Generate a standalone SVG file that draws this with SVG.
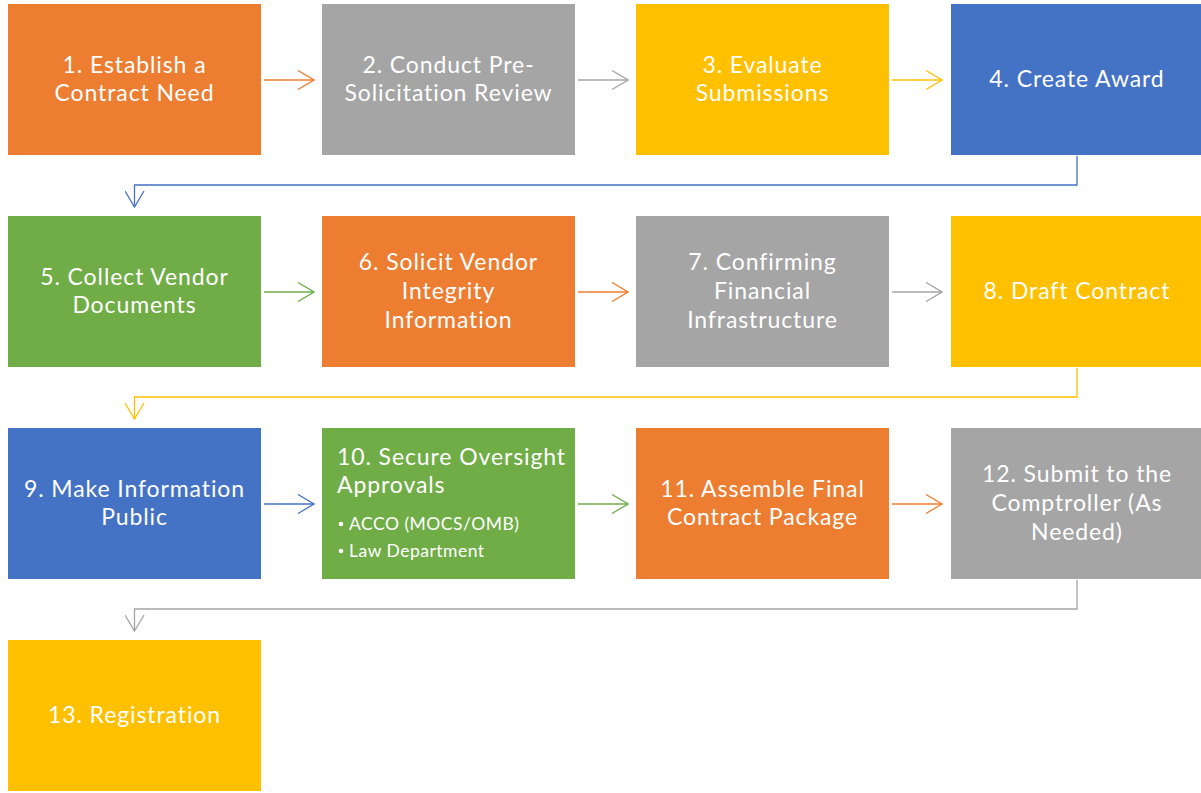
<svg xmlns="http://www.w3.org/2000/svg" width="1201" height="793" viewBox="0 0 1201 793">
  <style>
    .box { stroke: none; }
    .orange { fill: #ED7D31; }
    .gray { fill: #A5A5A5; }
    .yellow { fill: #FFC000; }
    .blue { fill: #4472C4; }
    .green { fill: #70AD47; }
    .lbl { font-family: Lato, "Open Sans", sans-serif; font-size: 23px; letter-spacing: 0.9px; fill: #FFFFFF; text-anchor: middle; }
    .lbl-left { font-family: Lato, "Open Sans", sans-serif; font-size: 23px; letter-spacing: 0.9px; fill: #FFFFFF; }
    .sub { font-family: Lato, "Open Sans", sans-serif; font-size: 17.5px; letter-spacing: 0.5px; fill: #FFFFFF; }
    .con { fill: none; stroke-width: 1.3; }
  </style>
  <defs>
    <marker id="ah-orange" viewBox="0 0 18 20" refX="17" refY="10" markerWidth="18" markerHeight="20" markerUnits="userSpaceOnUse" orient="auto">
      <path d="M1,0.5 L17,10 L1,19.5" fill="none" stroke="#ED7D31" stroke-width="1.3"/>
    </marker>
    <marker id="ah-gray" viewBox="0 0 18 20" refX="17" refY="10" markerWidth="18" markerHeight="20" markerUnits="userSpaceOnUse" orient="auto">
      <path d="M1,0.5 L17,10 L1,19.5" fill="none" stroke="#A5A5A5" stroke-width="1.3"/>
    </marker>
    <marker id="ah-yellow" viewBox="0 0 18 20" refX="17" refY="10" markerWidth="18" markerHeight="20" markerUnits="userSpaceOnUse" orient="auto">
      <path d="M1,0.5 L17,10 L1,19.5" fill="none" stroke="#FFC000" stroke-width="1.3"/>
    </marker>
    <marker id="ah-blue" viewBox="0 0 18 20" refX="17" refY="10" markerWidth="18" markerHeight="20" markerUnits="userSpaceOnUse" orient="auto">
      <path d="M1,0.5 L17,10 L1,19.5" fill="none" stroke="#4472C4" stroke-width="1.3"/>
    </marker>
    <marker id="ah-green" viewBox="0 0 18 20" refX="17" refY="10" markerWidth="18" markerHeight="20" markerUnits="userSpaceOnUse" orient="auto">
      <path d="M1,0.5 L17,10 L1,19.5" fill="none" stroke="#70AD47" stroke-width="1.3"/>
    </marker>
  </defs>
  <rect width="1201" height="793" fill="#FFFFFF"/>

  <!-- connectors -->
  <g id="connectors">
    <line class="con" x1="264" y1="80" x2="314" y2="80" stroke="#ED7D31" marker-end="url(#ah-orange)"/>
    <line class="con" x1="578" y1="80" x2="628" y2="80" stroke="#A5A5A5" marker-end="url(#ah-gray)"/>
    <line class="con" x1="892" y1="80" x2="942" y2="80" stroke="#FFC000" marker-end="url(#ah-yellow)"/>
    <polyline class="con" points="1077,156 1077,185 134.5,185 134.5,207" stroke="#4472C4" marker-end="url(#ah-blue)"/>

    <line class="con" x1="264" y1="292" x2="314" y2="292" stroke="#70AD47" marker-end="url(#ah-green)"/>
    <line class="con" x1="578" y1="292" x2="628" y2="292" stroke="#ED7D31" marker-end="url(#ah-orange)"/>
    <line class="con" x1="892" y1="292" x2="942" y2="292" stroke="#A5A5A5" marker-end="url(#ah-gray)"/>
    <polyline class="con" points="1077,368 1077,397 134.5,397 134.5,419" stroke="#FFC000" marker-end="url(#ah-yellow)"/>

    <line class="con" x1="264" y1="504" x2="314" y2="504" stroke="#4472C4" marker-end="url(#ah-blue)"/>
    <line class="con" x1="578" y1="504" x2="628" y2="504" stroke="#70AD47" marker-end="url(#ah-green)"/>
    <line class="con" x1="892" y1="504" x2="942" y2="504" stroke="#ED7D31" marker-end="url(#ah-orange)"/>
    <polyline class="con" points="1077,580 1077,609 134.5,609 134.5,631" stroke="#A5A5A5" marker-end="url(#ah-gray)"/>
  </g>

  <!-- row 1 -->
  <g id="n1">
    <rect class="box orange" x="8" y="4" width="253" height="151"/>
    <text class="lbl" x="134.5" y="73">1. Establish a</text>
    <text class="lbl" x="134.5" y="101">Contract Need</text>
  </g>
  <g id="n2">
    <rect class="box gray" x="322" y="4" width="253" height="151"/>
    <text class="lbl" x="448.5" y="73">2. Conduct Pre-</text>
    <text class="lbl" x="448.5" y="101">Solicitation Review</text>
  </g>
  <g id="n3">
    <rect class="box yellow" x="636" y="4" width="253" height="151"/>
    <text class="lbl" x="762.5" y="73">3. Evaluate</text>
    <text class="lbl" x="762.5" y="101">Submissions</text>
  </g>
  <g id="n4">
    <rect class="box blue" x="951" y="4" width="250" height="151"/>
    <text class="lbl" x="1077" y="87">4. Create Award</text>
  </g>

  <!-- row 2 -->
  <g id="n5">
    <rect class="box green" x="8" y="216" width="253" height="151"/>
    <text class="lbl" x="134.5" y="285">5. Collect Vendor</text>
    <text class="lbl" x="134.5" y="313">Documents</text>
  </g>
  <g id="n6">
    <rect class="box orange" x="322" y="216" width="253" height="151"/>
    <text class="lbl" x="448.5" y="270">6. Solicit Vendor</text>
    <text class="lbl" x="448.5" y="299">Integrity</text>
    <text class="lbl" x="448.5" y="328">Information</text>
  </g>
  <g id="n7">
    <rect class="box gray" x="636" y="216" width="253" height="151"/>
    <text class="lbl" x="762.5" y="270">7. Confirming</text>
    <text class="lbl" x="762.5" y="299">Financial</text>
    <text class="lbl" x="762.5" y="328">Infrastructure</text>
  </g>
  <g id="n8">
    <rect class="box yellow" x="951" y="216" width="250" height="151"/>
    <text class="lbl" x="1077" y="299">8. Draft Contract</text>
  </g>

  <!-- row 3 -->
  <g id="n9">
    <rect class="box blue" x="8" y="428" width="253" height="151"/>
    <text class="lbl" x="134.5" y="497">9. Make Information</text>
    <text class="lbl" x="134.5" y="525">Public</text>
  </g>
  <g id="n10">
    <rect class="box green" x="322" y="428" width="253" height="151"/>
    <text class="lbl-left" x="337" y="465">10. Secure Oversight</text>
    <text class="lbl-left" x="337" y="493">Approvals</text>
    <circle cx="341" cy="524" r="2.3" fill="#FFFFFF"/>
    <text class="sub" x="349" y="530">ACCO (MOCS/OMB)</text>
    <circle cx="341" cy="551" r="2.3" fill="#FFFFFF"/>
    <text class="sub" x="349" y="557">Law Department</text>
  </g>
  <g id="n11">
    <rect class="box orange" x="636" y="428" width="253" height="151"/>
    <text class="lbl" x="762.5" y="497">11. Assemble Final</text>
    <text class="lbl" x="762.5" y="525">Contract Package</text>
  </g>
  <g id="n12">
    <rect class="box gray" x="951" y="428" width="250" height="151"/>
    <text class="lbl" x="1077" y="482">12. Submit to the</text>
    <text class="lbl" x="1077" y="511">Comptroller (As</text>
    <text class="lbl" x="1077" y="540">Needed)</text>
  </g>

  <!-- row 4 -->
  <g id="n13">
    <rect class="box yellow" x="8" y="640" width="253" height="151"/>
    <text class="lbl" x="134.5" y="723">13. Registration</text>
  </g>
</svg>
